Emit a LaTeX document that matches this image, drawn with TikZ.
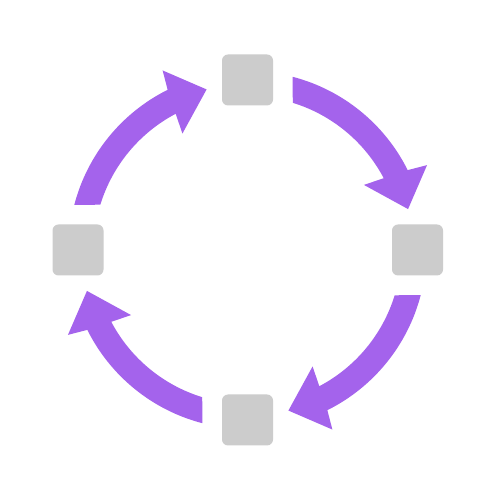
\documentclass[tikz,border=0pt]{standalone}
\definecolor{arrowpurple}{HTML}{A463EC}
\definecolor{boxgray}{HTML}{CCCCCC}
\tikzset{
  sq/.style={fill=boxgray, draw=none, rounded corners=6pt, minimum width=51pt, minimum height=51pt, inner sep=0pt},
  cyc arrow/.pic={
    \fill[arrowpurple] (75.4:179pt) arc[start angle=75.4, end angle=26.5, radius=179pt]
      -- (25.3:198.6pt) -- (14.3:165.7pt) -- (29.2:133.4pt) -- (27.8:154pt)
      arc[start angle=27.8, end angle=72.9, radius=154pt] -- cycle;
  }
}
\begin{document}
\begin{tikzpicture}[x=1pt,y=1pt]
\useasboundingbox (0,0) rectangle (500,500);
\fill[white] (0,0) rectangle (500,500);
\coordinate (c) at (247.5,250);
\pic[rotate=0] at (c) {cyc arrow};
\pic[rotate=-90] at (c) {cyc arrow};
\pic[rotate=-180] at (c) {cyc arrow};
\pic[rotate=-270] at (c) {cyc arrow};
\node[sq] (top) at (247.5,420) {};
\node[sq] (right) at (417.5,250) {};
\node[sq] (bottom) at (247.5,80) {};
\node[sq] (left) at (78,250) {};
\end{tikzpicture}
\end{document}
